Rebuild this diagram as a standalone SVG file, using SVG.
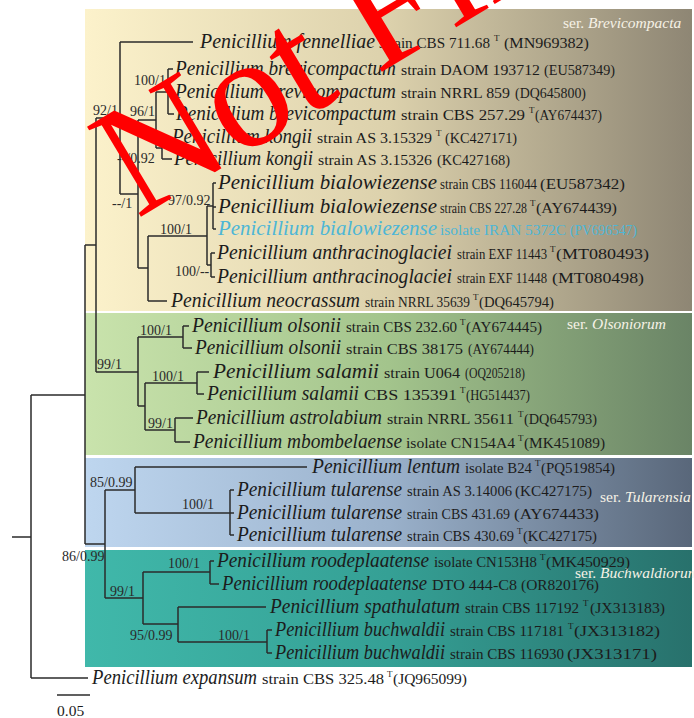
<svg xmlns="http://www.w3.org/2000/svg" width="694" height="718" viewBox="0 0 694 718">
<defs>
<linearGradient id="gBrev" x1="0" y1="0" x2="1" y2="0">
<stop offset="0" stop-color="#fcf2cb"/><stop offset="0.5" stop-color="#dcd1ac"/><stop offset="1" stop-color="#8e8674"/>
</linearGradient>
<linearGradient id="gOls" x1="0" y1="0" x2="1" y2="0">
<stop offset="0" stop-color="#c9e3ac"/><stop offset="0.5" stop-color="#a3c48c"/><stop offset="1" stop-color="#6a8466"/>
</linearGradient>
<linearGradient id="gTul" x1="0" y1="0" x2="1" y2="0">
<stop offset="0" stop-color="#bed6ef"/><stop offset="0.5" stop-color="#9ab1cb"/><stop offset="1" stop-color="#59677a"/>
</linearGradient>
<linearGradient id="gBuc" x1="0" y1="0" x2="1" y2="0">
<stop offset="0" stop-color="#40b8aa"/><stop offset="0.5" stop-color="#35a095"/><stop offset="1" stop-color="#28716c"/>
</linearGradient>
<style>
text{font-family:"Liberation Serif","Times New Roman",serif;fill:#1c1c1c}
.nm{font-size:20px;font-style:italic}
.st{font-size:15.5px}
.sm{font-size:14px}
.ac{font-size:14px}
.sp{font-size:9px}
.bs{font-size:14px;fill:#2a2a2a}
.ser{font-size:15.5px;fill:#f6f2e6}
.ser tspan.i{font-style:italic}
.cy{fill:#4db6d6}
.tree{fill:none;stroke:#2b2b2b;stroke-width:1.5}
</style>
</defs>
<g id="panels">
<rect x="85" y="9" width="607" height="302" fill="url(#gBrev)"/>
<rect x="85" y="313" width="607" height="142" fill="url(#gOls)"/>
<rect x="85" y="458" width="607" height="89" fill="url(#gTul)"/>
<rect x="85" y="550" width="607" height="117" fill="url(#gBuc)"/>
<text class="ser" x="563" y="28">ser. <tspan class="i">Brevicompacta</tspan></text>
<text class="ser" x="567" y="329">ser. <tspan class="i">Olsoniorum</tspan></text>
<text class="ser" x="600" y="502">ser. <tspan class="i">Tularensia</tspan></text>
<text class="ser" x="575" y="578">ser. <tspan class="i">Buchwaldiorum</tspan></text>
</g>
<g id="connectors" class="tree">
<path d="M12,537H31 M31,395V678 M31,395H85 M31,678H88 M85,245V544 M85,245H96 M96,118V372 M96,118H120 M120,42V194 M120,42H193 M120,194H138 M138,120V268 M138,120H156 M156,92V148 M156,92H168 M168,69V114 M168,69H173 M168,92H173 M168,114H174 M156,148H162 M162,137V159 M162,137H170 M162,159H172 M138,268H148 M148,236V301 M148,301H167 M148,236H207 M207,206V265 M207,206H213 M213,183V229 M213,183H216 M213,207H216 M213,229H216 M207,265H211 M211,253V277 M211,253H215 M211,277H215"/>
<path d="M96,372H138 M138,337V406 M138,337H183 M183,326V348 M183,326H189 M183,348H192 M138,406H145 M145,383V430 M145,383H197 M197,372V394 M197,372H209 M197,394H204 M145,430H175 M175,418V442 M175,418H193 M175,442H190"/>
<path d="M85,544H105 M105,490V598 M105,490H135 M135,467V513 M135,467H307 M135,513H230 M230,490V535 M230,490H234 M230,513H234 M230,535H234 M105,598H143 M143,572V624 M143,572H210 M210,561V584 M210,561H214 M210,584H219 M143,624H178 M178,607V642 M178,607H266 M178,642H267 M267,630V653 M267,630H272 M267,653H272"/>
</g>
<g id="support">
<text class="bs" x="93" y="115">92/1</text>
<text class="bs" x="134" y="85">100/1</text>
<text class="bs" x="130" y="116">96/1</text>
<text class="bs" x="117" y="163">--/0.92</text>
<text class="bs" x="112" y="208">--/1</text>
<text class="bs" x="168" y="205">97/0.92</text>
<text class="bs" x="160" y="234">100/1</text>
<text class="bs" x="175" y="276">100/--</text>
<text class="bs" x="140" y="335">100/1</text>
<text class="bs" x="97" y="369">99/1</text>
<text class="bs" x="152" y="381">100/1</text>
<text class="bs" x="148" y="428">99/1</text>
<text class="bs" x="90" y="487">85/0.99</text>
<text class="bs" x="182" y="509">100/1</text>
<text class="bs" x="62" y="561">86/0.99</text>
<text class="bs" x="168" y="568">100/1</text>
<text class="bs" x="110" y="596">99/1</text>
<text class="bs" x="130" y="640">95/0.99</text>
<text class="bs" x="218" y="640">100/1</text>
</g>
<g id="taxa">
<g id="t01"><text class="nm" x="200" y="48" textLength="175" lengthAdjust="spacingAndGlyphs">Penicillium fennelliae</text><text class="st" x="379" y="48" textLength="111" lengthAdjust="spacingAndGlyphs">strain CBS 711.68</text><text class="sp" x="494" y="41">T</text><text class="st" x="504" y="48" textLength="85" lengthAdjust="spacingAndGlyphs">(MN969382)</text></g>
<g id="t02"><text class="nm" x="175" y="75" textLength="221" lengthAdjust="spacingAndGlyphs">Penicillium brevicompactum</text><text class="st" x="401" y="75" textLength="139" lengthAdjust="spacingAndGlyphs">strain DAOM 193712</text><text class="ac" x="544" y="75" textLength="71" lengthAdjust="spacingAndGlyphs">(EU587349)</text></g>
<g id="t03"><text class="nm" x="175" y="98" textLength="221" lengthAdjust="spacingAndGlyphs">Penicillium brevicompactum</text><text class="st" x="401" y="98" textLength="109" lengthAdjust="spacingAndGlyphs">strain NRRL 859</text><text class="ac" x="515" y="98" textLength="71" lengthAdjust="spacingAndGlyphs">(DQ645800)</text></g>
<g id="t04"><text class="nm" x="176" y="120" textLength="220" lengthAdjust="spacingAndGlyphs">Penicillium brevicompactum</text><text class="st" x="401" y="120" textLength="124" lengthAdjust="spacingAndGlyphs">strain CBS 257.29</text><text class="sp" x="529" y="113">T</text><text class="ac" x="535" y="120" textLength="67" lengthAdjust="spacingAndGlyphs">(AY674437)</text></g>
<g id="t05"><text class="nm" x="172" y="143" textLength="140" lengthAdjust="spacingAndGlyphs">Penicillium kongii</text><text class="st" x="317" y="143" textLength="115" lengthAdjust="spacingAndGlyphs">strain AS 3.15329</text><text class="sp" x="436" y="136">T</text><text class="ac" x="445" y="143" textLength="72" lengthAdjust="spacingAndGlyphs">(KC427171)</text></g>
<g id="t06"><text class="nm" x="174" y="165" textLength="139" lengthAdjust="spacingAndGlyphs">Penicillium kongii</text><text class="st" x="318" y="165" textLength="114" lengthAdjust="spacingAndGlyphs">strain AS 3.15326</text><text class="ac" x="437" y="165" textLength="73" lengthAdjust="spacingAndGlyphs">(KC427168)</text></g>
<g id="t07"><text class="nm" x="218" y="189" textLength="219" lengthAdjust="spacingAndGlyphs">Penicillium bialowiezense</text><text class="sm" x="440" y="189" textLength="97" lengthAdjust="spacingAndGlyphs">strain CBS 116044</text><text class="ac" x="540" y="189" textLength="85" lengthAdjust="spacingAndGlyphs">(EU587342)</text></g>
<g id="t08"><text class="nm" x="218" y="213" textLength="219" lengthAdjust="spacingAndGlyphs">Penicillium bialowiezense</text><text class="sm" x="440" y="213" textLength="87" lengthAdjust="spacingAndGlyphs">strain CBS 227.28</text><text class="sp" x="530" y="206">T</text><text class="ac" x="536" y="213" textLength="81" lengthAdjust="spacingAndGlyphs">(AY674439)</text></g>
<g id="t09"><text class="nm cy" x="218" y="235" textLength="219" lengthAdjust="spacingAndGlyphs">Penicillium bialowiezense</text><text class="sm cy" x="440" y="235" textLength="126" lengthAdjust="spacingAndGlyphs">isolate IRAN 5372C</text><text class="ac cy" x="570" y="235" textLength="67" lengthAdjust="spacingAndGlyphs">(PV696547)</text></g>
<g id="t10"><text class="nm" x="217" y="259" textLength="235" lengthAdjust="spacingAndGlyphs">Penicillium anthracinoglaciei</text><text class="sm" x="457" y="259" textLength="90" lengthAdjust="spacingAndGlyphs">strain EXF 11443</text><text class="sp" x="550" y="252">T</text><text class="ac" x="556" y="259" textLength="93" lengthAdjust="spacingAndGlyphs">(MT080493)</text></g>
<g id="t11"><text class="nm" x="217" y="283" textLength="235" lengthAdjust="spacingAndGlyphs">Penicillium anthracinoglaciei</text><text class="sm" x="457" y="283" textLength="90" lengthAdjust="spacingAndGlyphs">strain EXF 11448</text><text class="ac" x="552" y="283" textLength="92" lengthAdjust="spacingAndGlyphs">(MT080498)</text></g>
<g id="t12"><text class="nm" x="171" y="307" textLength="189" lengthAdjust="spacingAndGlyphs">Penicillium neocrassum</text><text class="st" x="365" y="307" textLength="105" lengthAdjust="spacingAndGlyphs">strain NRRL 35639</text><text class="sp" x="473" y="300">T</text><text class="ac" x="479" y="307" textLength="75" lengthAdjust="spacingAndGlyphs">(DQ645794)</text></g>
<g id="t13"><text class="nm" x="192" y="332" textLength="149" lengthAdjust="spacingAndGlyphs">Penicillium olsonii</text><text class="st" x="346" y="332" textLength="111" lengthAdjust="spacingAndGlyphs">strain CBS 232.60</text><text class="sp" x="460" y="325">T</text><text class="ac" x="466" y="332" textLength="76" lengthAdjust="spacingAndGlyphs">(AY674445)</text></g>
<g id="t14"><text class="nm" x="195" y="354" textLength="146" lengthAdjust="spacingAndGlyphs">Penicillium olsonii</text><text class="st" x="346" y="354" textLength="117" lengthAdjust="spacingAndGlyphs">strain CBS 38175</text><text class="ac" x="468" y="354" textLength="66" lengthAdjust="spacingAndGlyphs">(AY674444)</text></g>
<g id="t15"><text class="nm" x="213" y="378" textLength="166" lengthAdjust="spacingAndGlyphs">Penicillium salamii</text><text class="st" x="384" y="378" textLength="76" lengthAdjust="spacingAndGlyphs">strain U064</text><text class="ac" x="465" y="378" textLength="60" lengthAdjust="spacingAndGlyphs">(OQ205218)</text></g>
<g id="t16"><text class="nm" x="207" y="400" textLength="152" lengthAdjust="spacingAndGlyphs">Penicillium salamii</text><text class="st" x="364" y="400" textLength="93" lengthAdjust="spacingAndGlyphs">CBS 135391</text><text class="sp" x="460" y="393">T</text><text class="ac" x="466" y="400" textLength="64" lengthAdjust="spacingAndGlyphs">(HG514437)</text></g>
<g id="t17"><text class="nm" x="196" y="424" textLength="186" lengthAdjust="spacingAndGlyphs">Penicillium astrolabium</text><text class="st" x="387" y="424" textLength="127" lengthAdjust="spacingAndGlyphs">strain NRRL 35611</text><text class="sp" x="518" y="417">T</text><text class="ac" x="524" y="424" textLength="73" lengthAdjust="spacingAndGlyphs">(DQ645793)</text></g>
<g id="t18"><text class="nm" x="193" y="448" textLength="209" lengthAdjust="spacingAndGlyphs">Penicillium mbombelaense</text><text class="st" x="406" y="448" textLength="109" lengthAdjust="spacingAndGlyphs">isolate CN154A4</text><text class="sp" x="518" y="441">T</text><text class="ac" x="524" y="448" textLength="81" lengthAdjust="spacingAndGlyphs">(MK451089)</text></g>
<g id="t19"><text class="nm" x="312" y="473" textLength="148" lengthAdjust="spacingAndGlyphs">Penicillium lentum</text><text class="st" x="465" y="473" textLength="67" lengthAdjust="spacingAndGlyphs">isolate B24</text><text class="sp" x="535" y="466">T</text><text class="ac" x="541" y="473" textLength="74" lengthAdjust="spacingAndGlyphs">(PQ519854)</text></g>
<g id="t20"><text class="nm" x="237" y="496" textLength="165" lengthAdjust="spacingAndGlyphs">Penicillium tularense</text><text class="st" x="407" y="496" textLength="105" lengthAdjust="spacingAndGlyphs">strain AS 3.14006</text><text class="ac" x="515" y="496" textLength="77" lengthAdjust="spacingAndGlyphs">(KC427175)</text></g>
<g id="t21"><text class="nm" x="237" y="519" textLength="165" lengthAdjust="spacingAndGlyphs">Penicillium tularense</text><text class="st" x="407" y="519" textLength="103" lengthAdjust="spacingAndGlyphs">strain CBS 431.69</text><text class="ac" x="514" y="519" textLength="85" lengthAdjust="spacingAndGlyphs">(AY674433)</text></g>
<g id="t22"><text class="nm" x="237" y="541" textLength="165" lengthAdjust="spacingAndGlyphs">Penicillium tularense</text><text class="st" x="407" y="541" textLength="107" lengthAdjust="spacingAndGlyphs">strain CBS 430.69</text><text class="sp" x="517" y="534">T</text><text class="ac" x="523" y="541" textLength="74" lengthAdjust="spacingAndGlyphs">(KC427175)</text></g>
<g id="t23"><text class="nm" x="217" y="567" textLength="212" lengthAdjust="spacingAndGlyphs">Penicillium roodeplaatense</text><text class="st" x="434" y="567" textLength="103" lengthAdjust="spacingAndGlyphs">isolate CN153H8</text><text class="sp" x="540" y="560">T</text><text class="ac" x="546" y="567" textLength="84" lengthAdjust="spacingAndGlyphs">(MK450929)</text></g>
<g id="t24"><text class="nm" x="222" y="590" textLength="205" lengthAdjust="spacingAndGlyphs">Penicillium roodeplaatense</text><text class="st" x="432" y="590" textLength="85" lengthAdjust="spacingAndGlyphs">DTO 444-C8</text><text class="ac" x="521" y="590" textLength="78" lengthAdjust="spacingAndGlyphs">(OR820176)</text></g>
<g id="t25"><text class="nm" x="270" y="613" textLength="190" lengthAdjust="spacingAndGlyphs">Penicillium spathulatum</text><text class="st" x="465" y="613" textLength="114" lengthAdjust="spacingAndGlyphs">strain CBS 117192</text><text class="sp" x="583" y="606">T</text><text class="ac" x="590" y="613" textLength="75" lengthAdjust="spacingAndGlyphs">(JX313183)</text></g>
<g id="t26"><text class="nm" x="275" y="636" textLength="170" lengthAdjust="spacingAndGlyphs">Penicillium buchwaldii</text><text class="st" x="450" y="636" textLength="114" lengthAdjust="spacingAndGlyphs">strain CBS 117181</text><text class="sp" x="568" y="629">T</text><text class="ac" x="574" y="636" textLength="86" lengthAdjust="spacingAndGlyphs">(JX313182)</text></g>
<g id="t27"><text class="nm" x="275" y="659" textLength="170" lengthAdjust="spacingAndGlyphs">Penicillium buchwaldii</text><text class="st" x="450" y="659" textLength="114" lengthAdjust="spacingAndGlyphs">strain CBS 116930</text><text class="ac" x="567" y="659" textLength="90" lengthAdjust="spacingAndGlyphs">(JX313171)</text></g>
<g id="t28"><text class="nm" x="92" y="684" textLength="165" lengthAdjust="spacingAndGlyphs">Penicillium expansum</text><text class="st" x="262" y="684" textLength="122" lengthAdjust="spacingAndGlyphs">strain CBS 325.48</text><text class="sp" x="387" y="677">T</text><text class="ac" x="393" y="684" textLength="74" lengthAdjust="spacingAndGlyphs">(JQ965099)</text></g>
</g>
<g id="scale-bar">
<path class="tree" d="M57,695H90"/>
<text class="st" x="57" y="716">0.05</text>
</g>
<text id="watermark" transform="translate(137,219) rotate(-31)" x="0" y="0" style="font-family:'Liberation Serif',serif;font-size:160px;fill:#ff0000">Not Final</text>
</svg>
